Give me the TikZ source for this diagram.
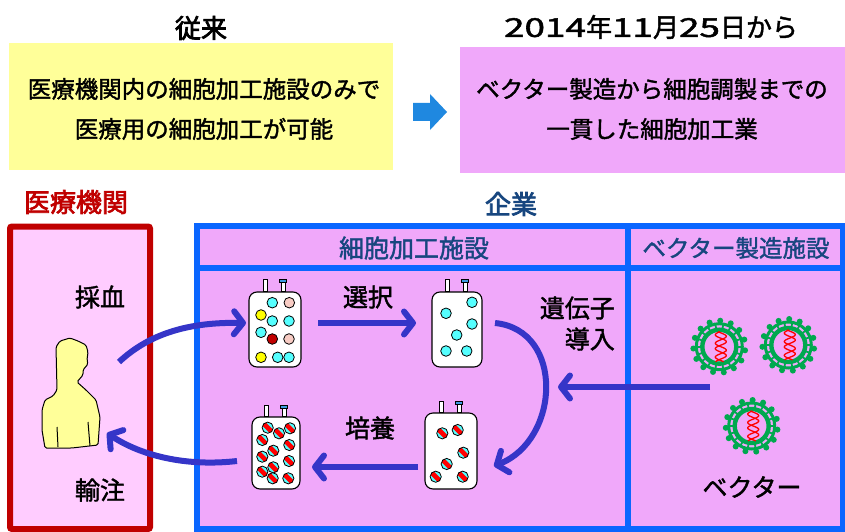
\documentclass[tikz,border=0pt]{standalone}
\usepackage{graphicx}
\usepackage{fontspec}
\setmainfont{Noto Sans CJK JP}[FakeBold=1.6]
\newfontfamily\jpheavy{Noto Sans CJK JP}[FakeBold=2.8]
\usetikzlibrary{arrows.meta}

\definecolor{boxyellow}{HTML}{FFFF99}
\definecolor{boxviolet}{HTML}{F0A8FA}
\definecolor{hospfill}{HTML}{FFCCFF}
\definecolor{hospred}{HTML}{C00000}
\definecolor{corpblue}{HTML}{0A66FF}
\definecolor{navytext}{HTML}{17467F}
\definecolor{flowblue}{HTML}{3535C8}
\definecolor{cellcyan}{HTML}{55FFFF}
\definecolor{cellpink}{HTML}{F8CCC4}
\definecolor{cellyellow}{HTML}{FFFF00}
\definecolor{celldark}{HTML}{C00000}
\definecolor{virusgreen}{HTML}{00A84F}
\definecolor{bigarrow}{HTML}{1F88E0}
\definecolor{portblue}{HTML}{3C9BE0}
\definecolor{bodyyellow}{HTML}{FFFF99}

\tikzset{
  title/.style={font=\fontsize{26}{30}\selectfont, inner sep=0pt},
  boxtext/.style={font=\fontsize{23.5}{40}\selectfont, align=center, inner sep=0pt},
  lbl/.style={font=\fontsize{25}{32}\selectfont, inner sep=0pt},
  headtext/.style={font=\fontsize{25}{30}\selectfont, text=navytext, inner sep=0pt},
  bagbox/.style={draw=black, fill=white, line width=1.1pt, rounded corners=8pt, inner sep=0pt},
  flow/.style={draw=flowblue, line width=6pt, -{Straight Barb[length=9pt,width=23pt,round]}},
  cellline/.style={draw=black, line width=0.8pt}
}

% wide digits for the date line
\newcommand\wdig[1]{\scalebox{1.42}[1]{#1}}
% plain cell: x, y, colour
\newcommand\cellat[3]{\filldraw[cellline, fill=#3] (#1,#2) circle (5.3pt);}
% transduced cell: cyan with a red diagonal band
\newcommand\tcellat[2]{%
  \begin{scope}
    \clip (#1,#2) circle (5.6pt);
    \fill[cellcyan] (#1,#2) circle (5.6pt);
    \draw[red, line width=4.6pt] (#1,#2) ++(-7,-7) -- ++(14,14);
  \end{scope}
  \draw[cellline] (#1,#2) circle (5.6pt);}
% bag ports on top of a bag node
\newcommand\bagports[2]{%
  \begin{scope}[shift={(#1.north)}]
    \filldraw[draw=black, fill=white, line width=0.6pt] (-12,0) rectangle (-8,-#2);
    \filldraw[draw=black, fill=white, line width=0.6pt] (6,0) rectangle (10,-#2+3);
    \filldraw[draw=black, fill=portblue, line width=0.6pt] (4.5,-#2+3) rectangle (11.5,-#2);
  \end{scope}}
% virus particle with helix genome
\newcommand\virusat[3]{%
  \begin{scope}[shift={(#1,#2)}]
    \foreach \a in {0,24,...,359}
      \fill[virusgreen] (\a+8:26) circle (3pt);
    \draw[virusgreen, line width=3pt] (0,0) circle (23pt);
    \foreach \a in {0,20,...,359}
      \draw[virusgreen, line width=1.8pt] (\a:17) -- (\a:23);
    \draw[virusgreen, line width=4.4pt] (0,0) circle (17pt);
    \draw[red, line width=1.3pt] plot[domain=-15:15, samples=50] ({1.5+5.5*sin(\x*26)}, \x);
    \draw[red, line width=1.3pt] plot[domain=-15:15, samples=50] ({1.5-5.5*sin(\x*26+40)}, \x);
    \coordinate (#3) at (0,0);
  \end{scope}}

\begin{document}
\begin{tikzpicture}[x=1pt, y=-1pt]
\useasboundingbox (0,0) rectangle (845,532);
\fill[white] (0,0) rectangle (845,532);

% ---- top row: before and after ----
\node[title, font=\fontsize{26}{30}\selectfont\jpheavy] (tbefore) at (201,28) {従来};
\node[title] (tafter) at (651,27) {\wdig{2014}年\wdig{11}月\wdig{25}日から};

\fill[boxyellow] (9,43) rectangle (393,170);
\node[boxtext] (before) at (204,109) {医療機関内の細胞加工施設のみで\\医療用の細胞加工が可能};

\fill[boxviolet] (460,47) rectangle (845,173);
\node[boxtext] (after) at (652,109) {ベクター製造から細胞調製までの\\一貫した細胞加工業};

\fill[bigarrow] (413,103) -- (430,103) -- (430,94) -- (447,112) -- (430,130) -- (430,121) -- (413,121) -- cycle;

% ---- hospital ----
\node[title, text=hospred, font=\fontsize{26}{30}\selectfont\jpheavy] (hosp) at (76,202) {医療機関};
\draw[hospred, fill=hospfill, line width=6pt, rounded corners=2pt] (10,226.5) rectangle (150,529);
\node[lbl] (saiketsu) at (100,297) {採血};
\node[lbl] (yuchu) at (100,490) {輸注};

% patient
\filldraw[draw=black, fill=bodyyellow, line width=1pt, rounded corners=1.5pt]
  (45,400) -- (53,396) -- (57,390) -- (56,347) -- (60,341) -- (70,338) -- (78,341)
  -- (86,345) -- (88,352) -- (87,360) -- (88,364) -- (83,370) -- (83,375) -- (77,382)
  -- (86,390) -- (96,400) -- (100,417) -- (98,445) -- (72,448) -- (45,448)
  -- (42,430) -- (42,410) -- cycle;
\draw[black, line width=1pt] (57,427) -- (58,447) (88,422) -- (90,446);
\coordinate (patient) at (70,400);

% ---- company ----
\node[title, text=navytext, font=\fontsize{26}{30}\selectfont\jpheavy] (corp) at (511,204) {企業};
\draw[corpblue, fill=boxviolet, line width=6pt] (196.5,226) rectangle (842.5,529);
\draw[corpblue, line width=6pt] (196.5,268) -- (842.5,268);
\draw[corpblue, line width=6pt] (628,226) -- (628,529);
\node[headtext] (cpf) at (414,248) {細胞加工施設};
\node[headtext, font=\fontsize{23.5}{30}\selectfont] (vmf) at (736,248) {ベクター製造施設};

\node[lbl] (senbetsu) at (368,297) {選択};
\node[lbl, anchor=east] (idenshi) at (615,308) {遺伝子};
\node[lbl, anchor=east] (donyu) at (615,339) {導入};
\node[lbl] (baiyo) at (370,428) {培養};
\node[lbl] (vector) at (752,487) {ベクター};

% bags
\node[bagbox, minimum width=52pt, minimum height=75pt] (bag1) at (275,329.5) {};
\bagports{bag1}{12.5}
\node[bagbox, minimum width=50pt, minimum height=75pt] (bag2) at (457,329.5) {};
\bagports{bag2}{12.5}
\node[bagbox, minimum width=48pt, minimum height=72pt] (bag3) at (276,453) {};
\bagports{bag3}{11}
\node[bagbox, minimum width=52pt, minimum height=76pt] (bag4) at (451,451) {};
\bagports{bag4}{11.5}

% mixed blood cells
\cellat{272.3}{302.7}{cellcyan}
\cellat{289.3}{302.7}{cellpink}
\cellat{261}{315}{cellyellow}
\cellat{272.3}{321}{cellcyan}
\cellat{289}{321}{cellcyan}
\cellat{261}{332.3}{cellcyan}
\cellat{272.3}{339}{celldark}
\cellat{289}{339}{cellpink}
\cellat{261}{357.3}{cellyellow}
\cellat{277.7}{357.3}{cellcyan}
\cellat{289}{357.3}{cellcyan}

% selected cells
\cellat{472}{302.3}{cellcyan}
\cellat{446}{313.3}{cellcyan}
\cellat{472}{324}{cellcyan}
\cellat{456.7}{335}{cellcyan}
\cellat{446}{351}{cellcyan}
\cellat{466.7}{351}{cellcyan}

% transduced cells
\tcellat{442.3}{433.3}
\tcellat{457.7}{430}
\tcellat{463.3}{452.7}
\tcellat{446.7}{464}
\tcellat{435.7}{476.7}
\tcellat{462.7}{476.7}

% expanded cells
\tcellat{267.7}{427.7}
\tcellat{290}{428.3}
\tcellat{279}{433.3}
\tcellat{262.3}{440}
\tcellat{289.3}{445}
\tcellat{273.3}{450.7}
\tcellat{262.3}{456.7}
\tcellat{289}{461}
\tcellat{273.3}{467.3}
\tcellat{262.3}{471.7}
\tcellat{272.7}{478.3}
\tcellat{288.3}{478.3}

% vectors
\virusat{719.3}{346.7}{vir1}
\virusat{788.3}{345}{vir2}
\virusat{751.7}{426}{vir3}

% ---- process flow ----
\coordinate (a1s) at (119,362);
\coordinate (a1e) at (246,323);
\coordinate (a2s) at (318,323);
\coordinate (a2e) at (416,323);
\coordinate (a3s) at (495,323);
\coordinate (a3e) at (494,466);
\coordinate (a4s) at (710,387);
\coordinate (a4e) at (558,387);
\coordinate (a5s) at (418,467);
\coordinate (a5e) at (312,467);
\coordinate (a6s) at (237,461);
\coordinate (a6e) at (107,433);

\draw[flow] (a1s) .. controls (150,333) and (190,322) .. (a1e);
\draw[flow] (a2s) -- (a2e);
\draw[flow] (a3s) .. controls (565,330) and (560,440) .. (a3e);
\draw[flow] (a4s) -- (a4e);
\draw[flow] (a5s) -- (a5e);
\draw[flow] (a6s) .. controls (185,467) and (140,455) .. (a6e);
\end{tikzpicture}
\end{document}
